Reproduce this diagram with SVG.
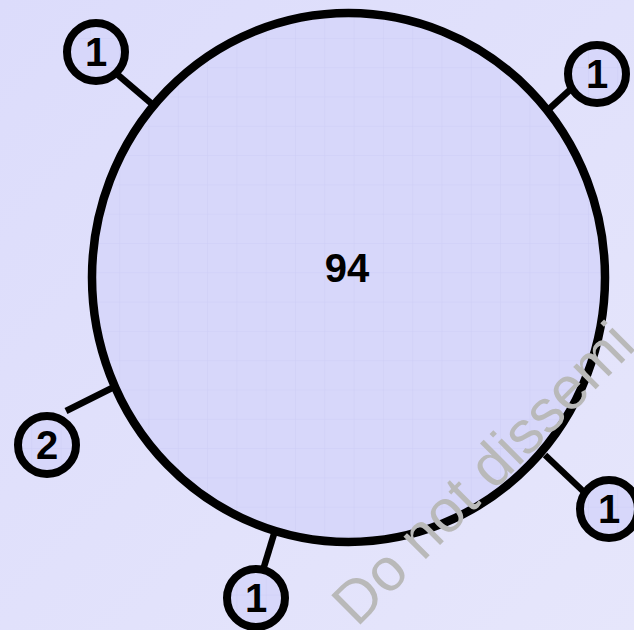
<svg xmlns="http://www.w3.org/2000/svg" width="634" height="630" viewBox="0 0 634 630">
<defs>
<linearGradient id="bg" x1="0" y1="0" x2="1" y2="1">
<stop offset="0" stop-color="#dcdcfb"/>
<stop offset="1" stop-color="#e6e6fb"/>
</linearGradient>
<pattern id="grid" x="2" y="8.6" width="29.3" height="29.3" patternUnits="userSpaceOnUse">
<rect width="29.3" height="29.3" fill="#d7d7fa"/>
<path d="M0 0H29.3M0 0V29.3" stroke="#cdcdf6" stroke-width="1" fill="none"/>
</pattern>
</defs>
<style>
.ring{fill:url(#grid);stroke:#000;stroke-width:8}
.big{fill:url(#grid);stroke:#000;stroke-width:8.5}
.num{font-family:"Liberation Sans",Arial,sans-serif;font-weight:bold;font-size:40px;text-anchor:middle;fill:#000}
.conn line{stroke:#000;stroke-width:6.5}
.wm{font-family:"Liberation Sans",Arial,sans-serif;font-size:60px;fill:#b9b9b9}
</style>
<rect width="634" height="630" fill="url(#bg)"/>
<g id="connectors" class="conn">
<line x1="118" y1="75" x2="152" y2="104"/>
<line x1="572" y1="88" x2="548" y2="110"/>
<line x1="66" y1="411" x2="114" y2="387"/>
<line x1="545" y1="455" x2="584" y2="492"/>
<line x1="274" y1="534" x2="263" y2="570"/>
</g>
<g id="n94">
<ellipse class="big" cx="348.5" cy="277.5" rx="256.5" ry="264.5"/>
<text class="num" x="347" y="282">94</text>
</g>
<g id="n1a">
<circle class="ring" cx="96" cy="52" r="29"/>
<text class="num" x="96" y="66">1</text>
</g>
<g id="n1b">
<circle class="ring" cx="597" cy="74" r="29"/>
<text class="num" x="597" y="88">1</text>
</g>
<g id="n2">
<circle class="ring" cx="47" cy="445" r="29"/>
<text class="num" x="47" y="459">2</text>
</g>
<g id="n1c">
<circle class="ring" cx="609" cy="509" r="29"/>
<text class="num" x="609" y="523">1</text>
</g>
<g id="n1d">
<circle class="ring" cx="256" cy="598" r="29"/>
<text class="num" x="256" y="612">1</text>
</g>
<text class="wm" transform="translate(357 628) rotate(-45)">Do not dissemi</text>
</svg>
